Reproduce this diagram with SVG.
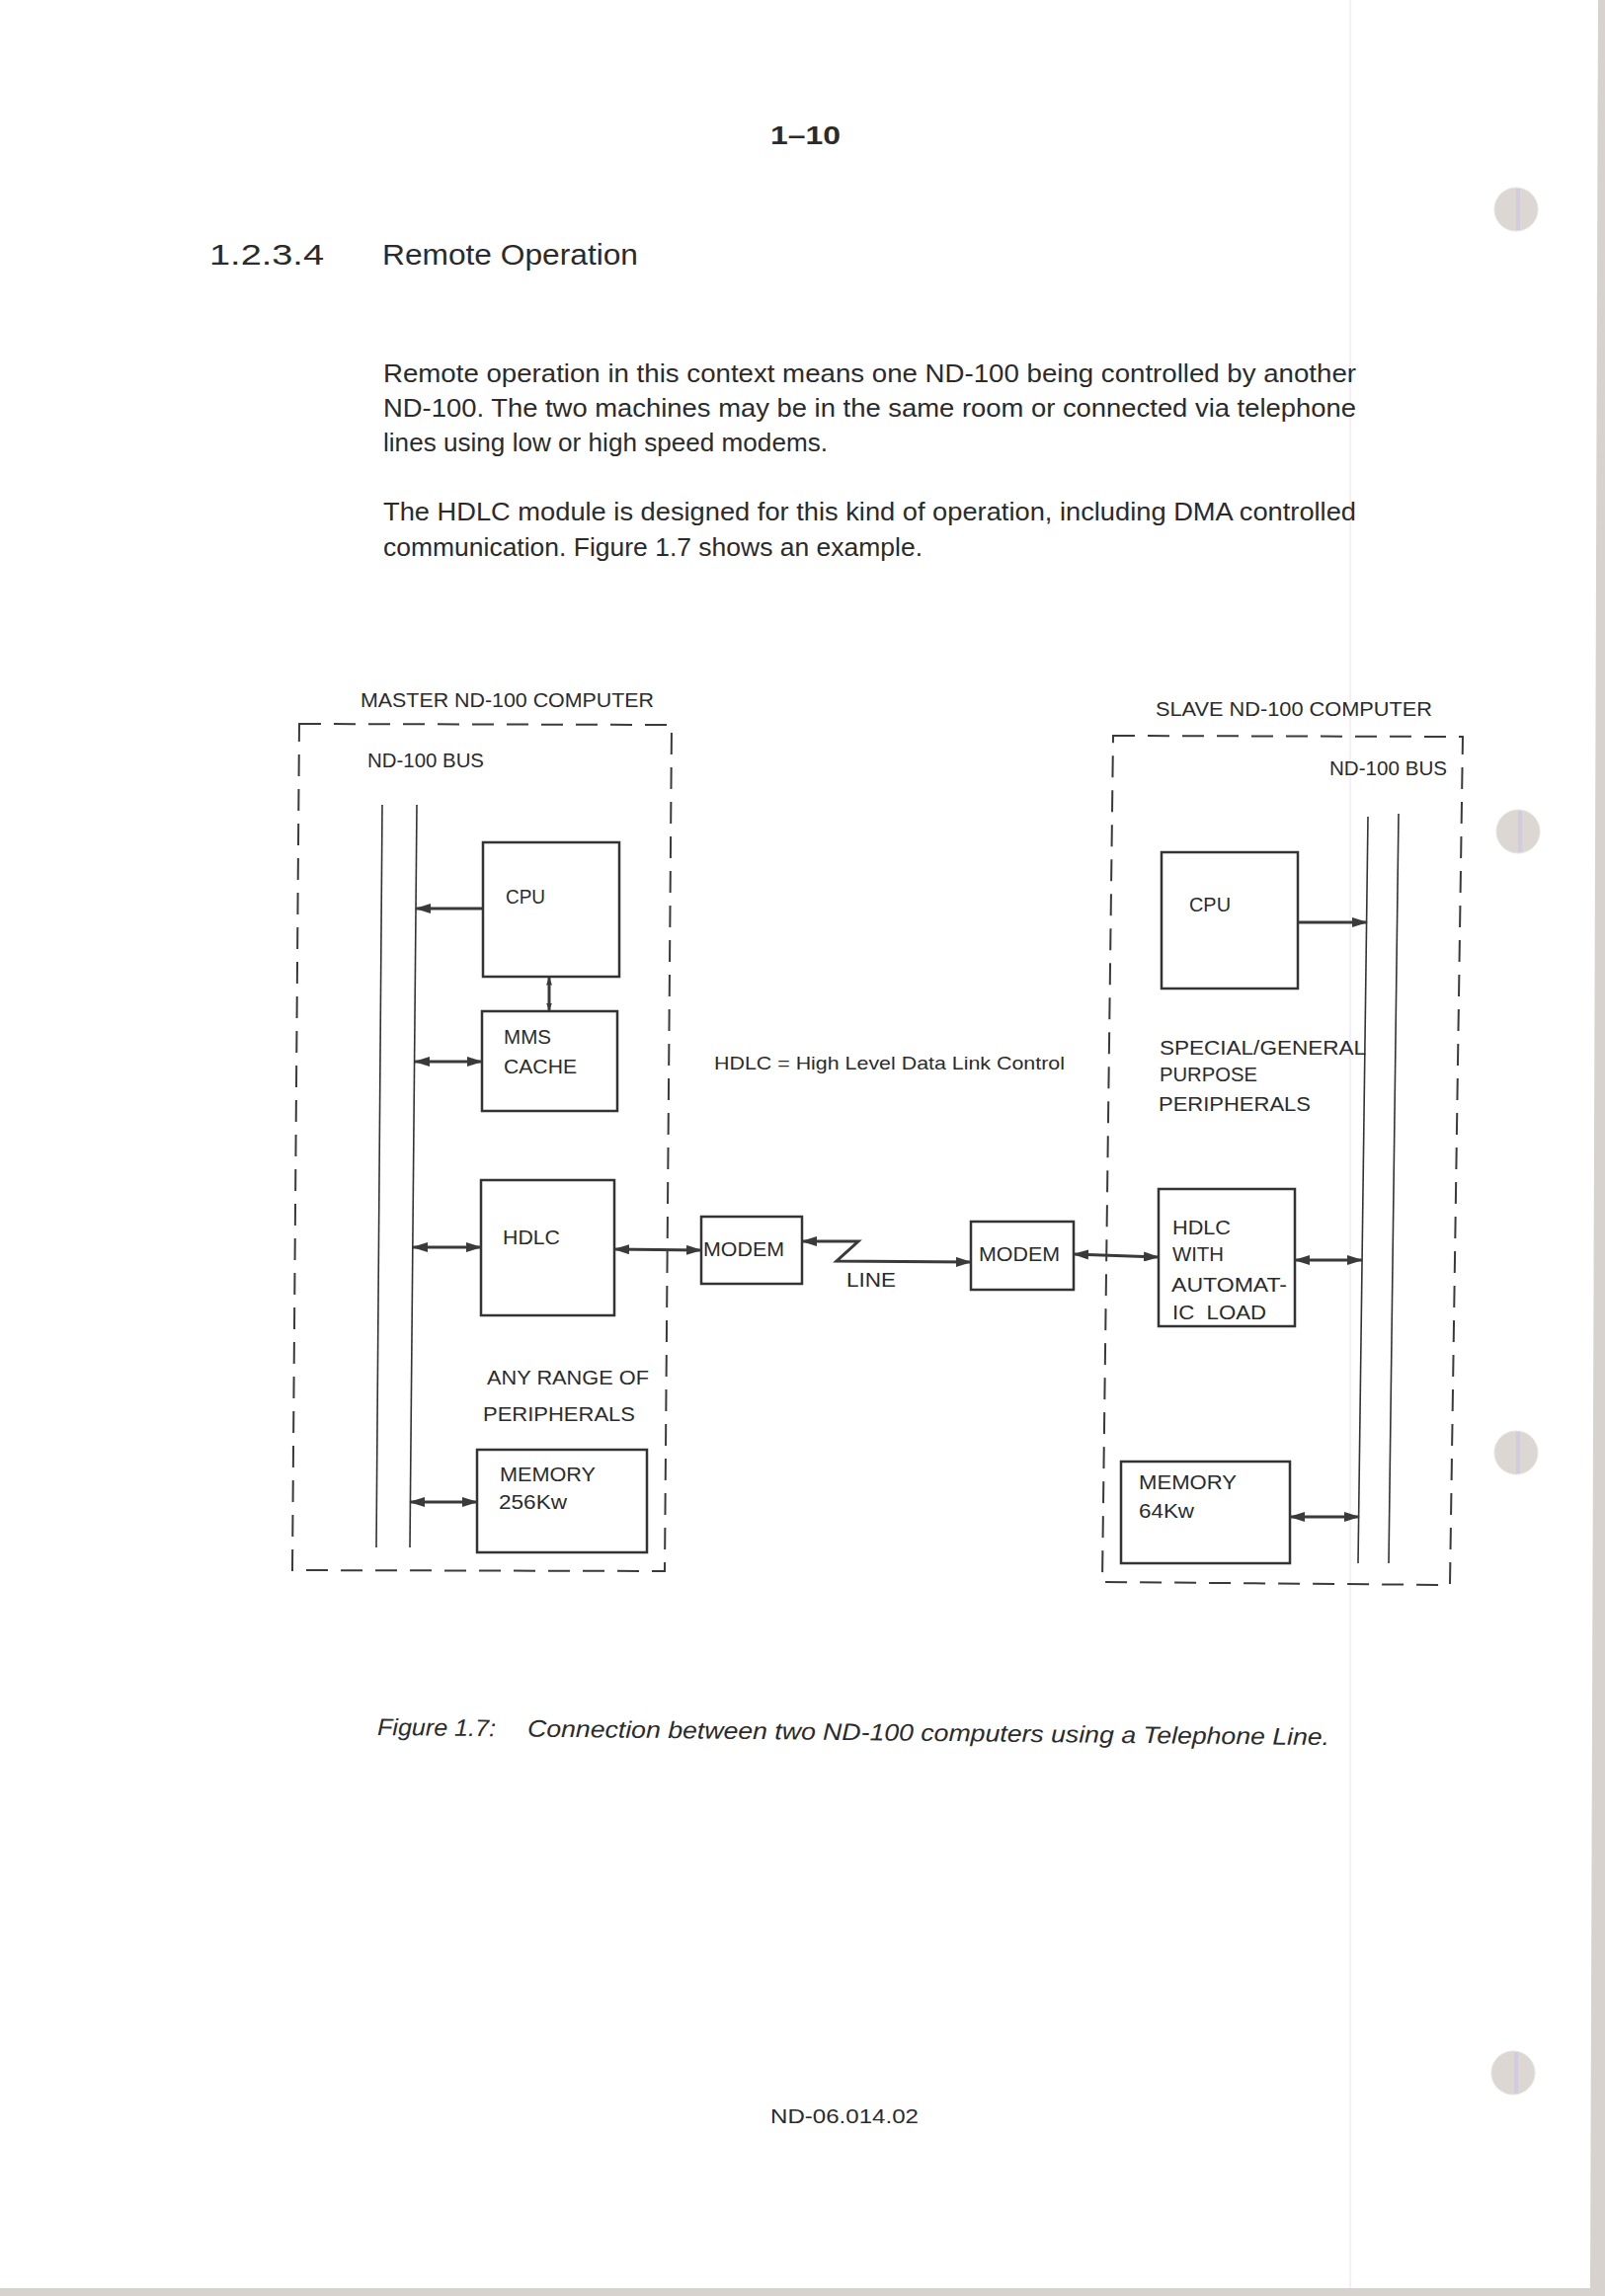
<svg xmlns="http://www.w3.org/2000/svg" width="1625" height="2325" viewBox="0 0 1625 2325">
<style>
.t{font-family:"Liberation Sans",Arial,sans-serif;fill:#2b2b2b}
.body{font-size:26px}
.lbl{font-size:20px}
.box{fill:none;stroke:#333;stroke-width:2.5}
.dash{fill:none;stroke:#3a3a3a;stroke-width:2;stroke-dasharray:22 13}
.bus{fill:none;stroke:#333;stroke-width:1.6}
.con{fill:none;stroke:#3a3a3a;stroke-width:3}
.hole{fill:#dcd7d2;stroke:#e6e2de;stroke-width:1}
</style>
<defs>
<marker id="ah" viewBox="0 0 16 10" refX="15" refY="5" markerWidth="16" markerHeight="10" markerUnits="userSpaceOnUse" orient="auto-start-reverse"><path d="M0,0 L16,5 L0,10 Z" fill="#3a3a3a"/></marker>
<marker id="ahs" viewBox="0 0 8 6" refX="7.5" refY="3" markerWidth="8" markerHeight="6" markerUnits="userSpaceOnUse" orient="auto-start-reverse"><path d="M0,0 L8,3 L0,6 Z" fill="#3a3a3a"/></marker>
</defs>
<rect width="1625" height="2325" fill="#ffffff"/>
<!-- page scan edges -->
<line x1="1367" y1="0" x2="1367" y2="2317" stroke="#f8eef7" stroke-width="2"/>
<polygon points="1618,0 1625,0 1625,2325 1610,2325 1610,2317" fill="#d7d2cd"/>
<rect x="0" y="2317" width="1625" height="8" fill="#d7d2cd"/>
<g id="holes">
<circle class="hole" cx="1535" cy="212" r="22"/><rect x="1535" y="191" width="4" height="42" fill="#d2cbe0"/>
<circle class="hole" cx="1537" cy="842" r="22"/><rect x="1537" y="821" width="4" height="42" fill="#d2cbe0"/>
<circle class="hole" cx="1535" cy="1471" r="22"/><rect x="1535" y="1450" width="4" height="42" fill="#d2cbe0"/>
<circle class="hole" cx="1532" cy="2099" r="22"/><rect x="1533" y="2078" width="4" height="42" fill="#d2cbe0"/>
</g>
<!-- page text -->
<g id="page-text">
<text class="t body" x="780" y="146" textLength="71" lengthAdjust="spacingAndGlyphs" font-weight="bold">1–10</text>
<text class="t" x="212" y="268" font-size="30" textLength="116" lengthAdjust="spacingAndGlyphs">1.2.3.4</text>
<text class="t" x="387" y="268" font-size="30" textLength="259" lengthAdjust="spacingAndGlyphs">Remote Operation</text>
<text class="t body" x="388" y="387" textLength="985" lengthAdjust="spacingAndGlyphs">Remote operation in this context means one ND-100 being controlled by another</text>
<text class="t body" x="388" y="422" textLength="985" lengthAdjust="spacingAndGlyphs">ND-100. The two machines may be in the same room or connected via telephone</text>
<text class="t body" x="388" y="457" textLength="450" lengthAdjust="spacingAndGlyphs">lines using low or high speed modems.</text>
<text class="t body" x="388" y="527" textLength="985" lengthAdjust="spacingAndGlyphs">The HDLC module is designed for this kind of operation, including DMA controlled</text>
<text class="t body" x="388" y="563" textLength="546" lengthAdjust="spacingAndGlyphs">communication. Figure 1.7 shows an example.</text>
<g transform="rotate(0.6 382 1757)">
<text class="t" x="382" y="1757" font-size="24" font-style="italic" textLength="120" lengthAdjust="spacingAndGlyphs">Figure 1.7:</text>
<text class="t" x="534" y="1757" font-size="24" font-style="italic" textLength="812" lengthAdjust="spacingAndGlyphs">Connection between two ND-100 computers using a Telephone Line.</text>
</g>
<text class="t" x="780" y="2150" font-size="21" textLength="150" lengthAdjust="spacingAndGlyphs">ND-06.014.02</text>
</g>
<!-- master computer -->
<g id="master">
<path class="dash" d="M303,733 L680,734 L673,1591 L296,1590 Z"/>
<text class="t lbl" x="365" y="716" textLength="297" lengthAdjust="spacingAndGlyphs">MASTER ND-100 COMPUTER</text>
<text class="t lbl" x="372" y="777" textLength="118" lengthAdjust="spacingAndGlyphs">ND-100 BUS</text>
<g id="master-bus"><path class="bus" d="M387,815 L381,1567"/><path class="bus" d="M422,815 L415,1567"/></g>
<g id="master-cpu"><rect class="box" x="489" y="853" width="138" height="136"/><text class="t lbl" x="512" y="915" textLength="40" lengthAdjust="spacingAndGlyphs">CPU</text></g>
<g id="master-mms"><rect class="box" x="488" y="1024" width="137" height="101"/><text class="t lbl" x="510" y="1057" textLength="48" lengthAdjust="spacingAndGlyphs">MMS</text><text class="t lbl" x="510" y="1087" textLength="74" lengthAdjust="spacingAndGlyphs">CACHE</text></g>
<g id="master-hdlc"><rect class="box" x="487" y="1195" width="135" height="137"/><text class="t lbl" x="509" y="1260" textLength="58" lengthAdjust="spacingAndGlyphs">HDLC</text></g>
<g id="master-peripherals"><text class="t lbl" x="493" y="1402" textLength="164" lengthAdjust="spacingAndGlyphs">ANY RANGE OF</text><text class="t lbl" x="489" y="1439" textLength="154" lengthAdjust="spacingAndGlyphs">PERIPHERALS</text></g>
<g id="master-memory"><rect class="box" x="483" y="1468" width="172" height="104"/><text class="t lbl" x="506" y="1500" textLength="97" lengthAdjust="spacingAndGlyphs">MEMORY</text><text class="t lbl" x="505" y="1528" textLength="69" lengthAdjust="spacingAndGlyphs">256Kw</text></g>
</g>
<!-- link -->
<g id="modem-1"><rect class="box" x="710" y="1232" width="102" height="68"/><text class="t lbl" x="712" y="1272" textLength="82" lengthAdjust="spacingAndGlyphs">MODEM</text></g>
<g id="modem-2"><rect class="box" x="983" y="1237" width="104" height="69"/><text class="t lbl" x="991" y="1277" textLength="82" lengthAdjust="spacingAndGlyphs">MODEM</text></g>
<g id="legend"><text class="t" x="723" y="1083" font-size="19" textLength="355" lengthAdjust="spacingAndGlyphs">HDLC = High Level Data Link Control</text></g>
<g id="line-label"><text class="t lbl" x="857" y="1303" textLength="50" lengthAdjust="spacingAndGlyphs">LINE</text></g>
<!-- slave computer -->
<g id="slave">
<path class="dash" d="M1127,745 L1481,746 L1468,1605 L1116,1602 Z"/>
<text class="t lbl" x="1170" y="725" textLength="280" lengthAdjust="spacingAndGlyphs">SLAVE ND-100 COMPUTER</text>
<text class="t lbl" x="1346" y="785" textLength="119" lengthAdjust="spacingAndGlyphs">ND-100 BUS</text>
<g id="slave-bus"><path class="bus" d="M1385,827 L1375,1583"/><path class="bus" d="M1416,824 L1406,1583"/></g>
<g id="slave-cpu"><rect class="box" x="1176" y="863" width="138" height="138"/><text class="t lbl" x="1204" y="923" textLength="42" lengthAdjust="spacingAndGlyphs">CPU</text></g>
<g id="slave-peripherals"><text class="t lbl" x="1174" y="1068" textLength="209" lengthAdjust="spacingAndGlyphs">SPECIAL/GENERAL</text><text class="t lbl" x="1174" y="1095" textLength="99" lengthAdjust="spacingAndGlyphs">PURPOSE</text><text class="t lbl" x="1173" y="1125" textLength="154" lengthAdjust="spacingAndGlyphs">PERIPHERALS</text></g>
<g id="slave-hdlc"><rect class="box" x="1173" y="1204" width="138" height="139"/><text class="t lbl" x="1187" y="1250" textLength="59" lengthAdjust="spacingAndGlyphs">HDLC</text><text class="t lbl" x="1187" y="1277" textLength="52" lengthAdjust="spacingAndGlyphs">WITH</text><text class="t lbl" x="1186" y="1308" textLength="117" lengthAdjust="spacingAndGlyphs">AUTOMAT-</text><text class="t lbl" x="1187" y="1336" textLength="95" lengthAdjust="spacingAndGlyphs" xml:space="preserve">IC  LOAD</text></g>
<g id="slave-memory"><rect class="box" x="1135" y="1480" width="171" height="103"/><text class="t lbl" x="1153" y="1508" textLength="99" lengthAdjust="spacingAndGlyphs">MEMORY</text><text class="t lbl" x="1153" y="1537" textLength="56" lengthAdjust="spacingAndGlyphs">64Kw</text></g>
</g>
<!-- connectors -->
<g id="connectors">
<path class="con" d="M489,920 L421,920" marker-end="url(#ah)"/>
<path class="con" d="M556,990 L556,1023" stroke-width="2" marker-start="url(#ahs)" marker-end="url(#ahs)"/>
<path class="con" d="M420,1075 L488,1075" marker-start="url(#ah)" marker-end="url(#ah)"/>
<path class="con" d="M418,1263 L487,1263" marker-start="url(#ah)" marker-end="url(#ah)"/>
<path class="con" d="M415,1521 L483,1521" marker-start="url(#ah)" marker-end="url(#ah)"/>
<path class="con" d="M622,1265 L710,1266" marker-start="url(#ah)" marker-end="url(#ah)"/>
<path class="con" d="M812,1257 L869,1257 L847,1277 L983,1278" marker-start="url(#ah)" marker-end="url(#ah)"/>
<path class="con" d="M1087,1270 L1173,1273" marker-start="url(#ah)" marker-end="url(#ah)"/>
<path class="con" d="M1314,934 L1384,934" marker-end="url(#ah)"/>
<path class="con" d="M1311,1276 L1379,1276" marker-start="url(#ah)" marker-end="url(#ah)"/>
<path class="con" d="M1306,1536 L1376,1536" marker-start="url(#ah)" marker-end="url(#ah)"/>
</g>
</svg>
